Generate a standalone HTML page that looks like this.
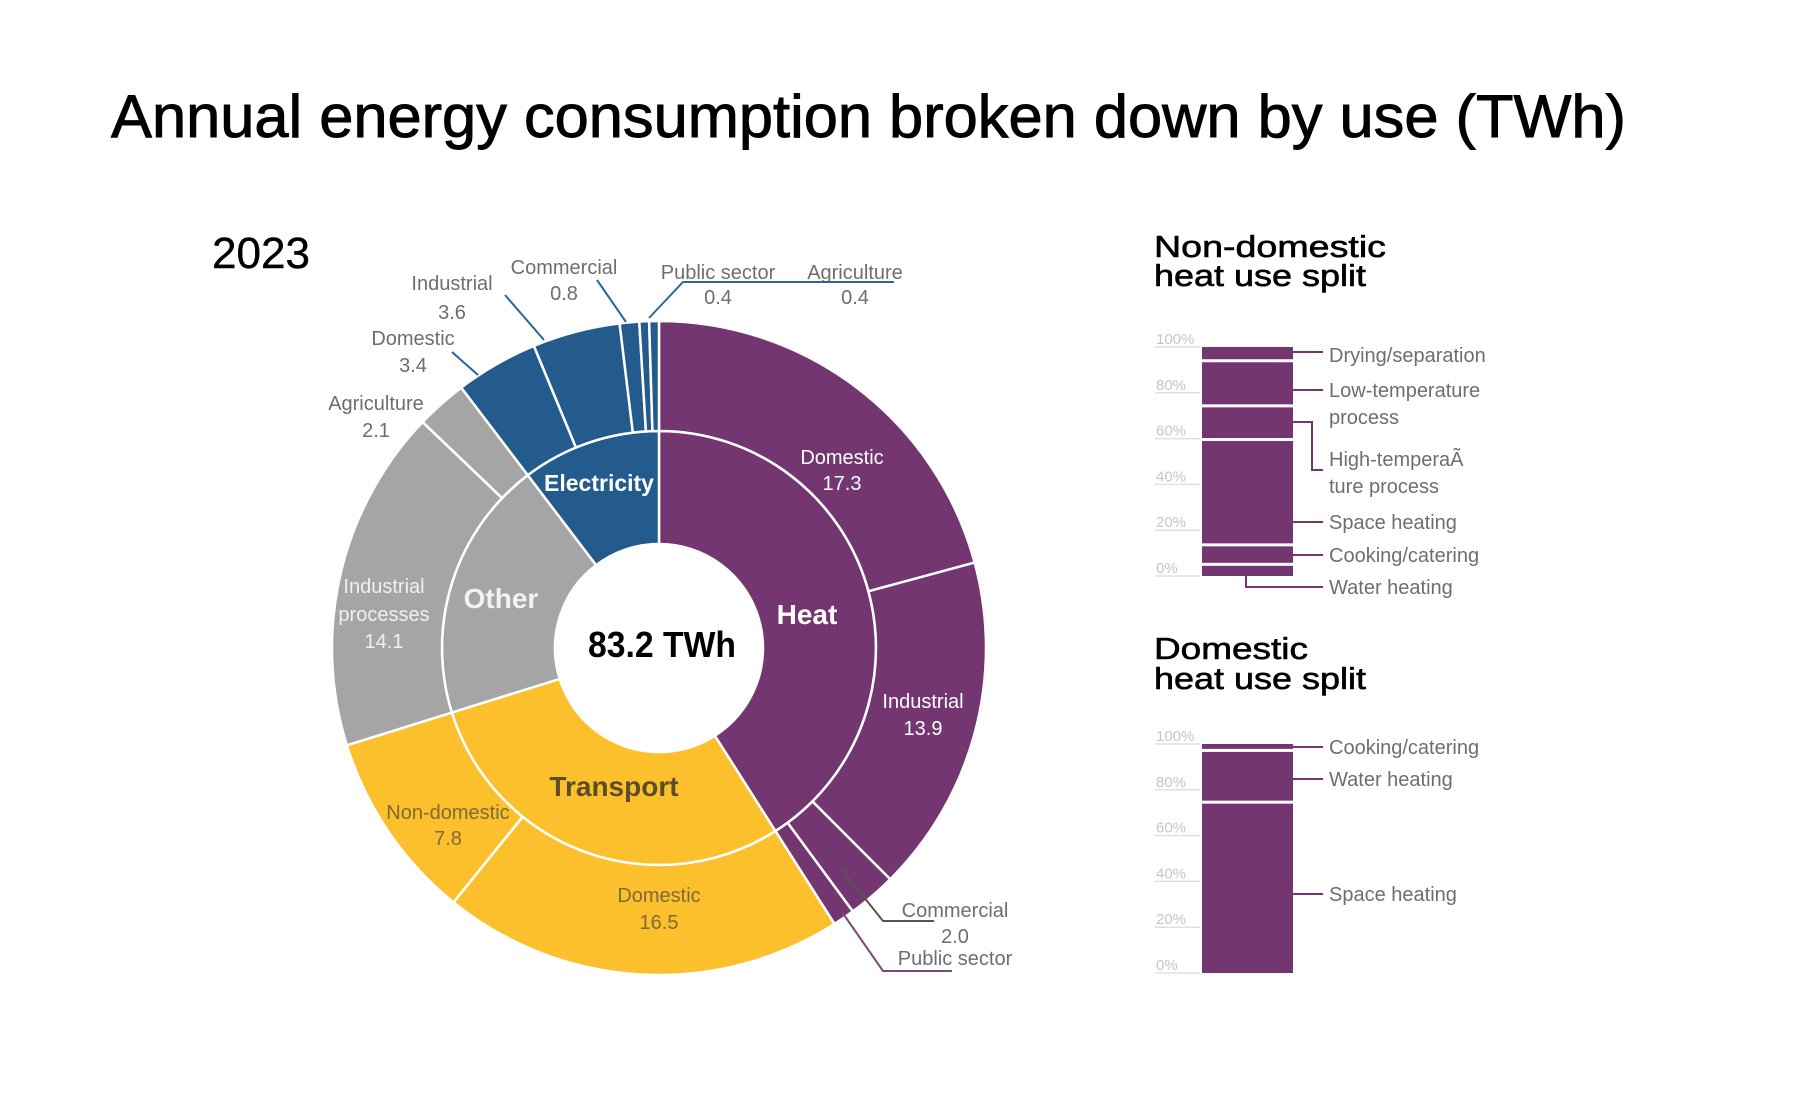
<!DOCTYPE html>
<html><head><meta charset="utf-8"><style>
html,body{margin:0;padding:0;background:#fff;}
svg{display:block;font-family:"Liberation Sans",sans-serif;}
</style></head><body>
<svg id="chart" width="1800" height="1100" viewBox="0 0 1800 1100">
<rect width="1800" height="1100" fill="#fff"/>
<text x="111" y="137" font-size="60" textLength="1515" lengthAdjust="spacingAndGlyphs" fill="#000" stroke="#000" stroke-width="0.9">Annual energy consumption broken down by use (TWh)</text>
<text x="212" y="268" font-size="44" textLength="98" lengthAdjust="spacingAndGlyphs" fill="#000" stroke="#000" stroke-width="0.4">2023</text>
<g id="donut"></g>
<g id="donutText">
<text x="662" y="657" font-size="36" font-weight="bold" text-anchor="middle" textLength="148" lengthAdjust="spacingAndGlyphs" fill="#000">83.2 TWh</text>
<text x="807" y="624" font-size="28" font-weight="bold" text-anchor="middle" fill="#fff">Heat</text>
<text x="599" y="491" font-size="23" font-weight="bold" text-anchor="middle" fill="#fff">Electricity</text>
<text x="501" y="608" font-size="28" font-weight="bold" text-anchor="middle" fill="#f2f2f2">Other</text>
<text x="614" y="796" font-size="28" font-weight="bold" text-anchor="middle" fill="#5b4d26">Transport</text>
<g font-size="20" text-anchor="middle" fill="#fff">
<text x="842" y="464">Domestic</text>
<text x="842" y="490">17.3</text>
<text x="923" y="708">Industrial</text>
<text x="923" y="735">13.9</text>
<text x="384" y="593" fill="#f0f0f0">Industrial</text>
<text x="384" y="621" fill="#f0f0f0">processes</text>
<text x="384" y="648" fill="#f0f0f0">14.1</text>
<text x="448" y="819" fill="#7d6b3a">Non-domestic</text>
<text x="448" y="845" fill="#7d6b3a">7.8</text>
<text x="659" y="902" fill="#7d6b3a">Domestic</text>
<text x="659" y="929" fill="#7d6b3a">16.5</text>
</g>
<g font-size="20" text-anchor="middle" fill="#6e6e6e">
<text x="376" y="410">Agriculture</text>
<text x="376" y="437">2.1</text>
<text x="413" y="345">Domestic</text>
<text x="413" y="372">3.4</text>
<text x="452" y="290">Industrial</text>
<text x="452" y="319">3.6</text>
<text x="564" y="274">Commercial</text>
<text x="564" y="300">0.8</text>
<text x="718" y="279">Public sector</text>
<text x="718" y="304">0.4</text>
<text x="855" y="279">Agriculture</text>
<text x="855" y="304">0.4</text>
<text x="955" y="917">Commercial</text>
<text x="955" y="943">2.0</text>
<text x="955" y="965">Public sector</text>
</g>
<g fill="none" stroke-width="2">
<polyline points="452,352 478,375" stroke="#2e6595"/>
<polyline points="505,295 544,340" stroke="#2e6595"/>
<polyline points="597,280 626,322" stroke="#2e6595"/>
<polyline points="649,318 683,282 894,282" stroke="#2e6595"/>
<polyline points="840,867 883,921 934,921" stroke="#555"/>
<polyline points="842,912 883,971 952,971" stroke="#7a4a78"/>
</g>
</g>

<g stroke="#000" stroke-width="0.6">
<text x="1154" y="257" font-size="31" textLength="232" lengthAdjust="spacingAndGlyphs" fill="#000">Non-domestic</text>
<text x="1154" y="286" font-size="31" textLength="212" lengthAdjust="spacingAndGlyphs" fill="#000">heat use split</text>
<text x="1154" y="659" font-size="31" textLength="154" lengthAdjust="spacingAndGlyphs" fill="#000">Domestic</text>
<text x="1154" y="689" font-size="31" textLength="212" lengthAdjust="spacingAndGlyphs" fill="#000">heat use split</text>
</g>
<g id="bars"></g>
<g font-size="20" fill="#6e6e6e">
<text x="1329" y="362">Drying/separation</text>
<text x="1329" y="397">Low-temperature</text>
<text x="1329" y="424">process</text>
<text x="1329" y="466">High-temperaÃ</text>
<text x="1329" y="493">ture process</text>
<text x="1329" y="529">Space heating</text>
<text x="1329" y="562">Cooking/catering</text>
<text x="1329" y="594">Water heating</text>
<text x="1329" y="754">Cooking/catering</text>
<text x="1329" y="786">Water heating</text>
<text x="1329" y="901">Space heating</text>
</g>
<g fill="none" stroke="#733670" stroke-width="2">
<polyline points="1293,352 1323,352"/>
<polyline points="1293,390 1323,390"/>
<polyline points="1293,422 1312,422 1312,470 1323,470"/>
<polyline points="1293,522 1323,522"/>
<polyline points="1293,555 1323,555"/>
<polyline points="1246,576 1246,587 1323,587"/>
<polyline points="1293,747 1323,747"/>
<polyline points="1293,779 1323,779"/>
<polyline points="1293,894 1323,894"/>
</g>
</svg>
<script>
const heatSub = [17.3, 13.9, 2.0, 0.9];
const transportSub = [16.5, 7.8];
const otherSub = [14.1, 2.1];
const elecSub = [3.4, 3.6, 0.8, 0.4, 0.4];
const groupNames = ['heat', 'transport', 'other', 'electricity'];
const ndShares = [5.1, 8.5, 46.0, 14.7, 19.7, 6.0];
const ndNames = ['water', 'cooking', 'space', 'high-temp', 'low-temp', 'drying'];
const dShares = [74.6, 22.6, 2.8];
const dNames = ['space', 'water', 'cooking'];
const tickLabels = ['0%', '20%', '40%', '60%', '80%', '100%'];

const NS = 'http://www.w3.org/2000/svg';
const colors = ['#733670', '#fcc02c', '#a5a5a5', '#235b8c'];
const groups = [heatSub, transportSub, otherSub, elecSub];
const cx = 659, cy = 648, r0 = 104, r1 = 217, r2 = 327;
const total = groups.reduce((s, g) => s + g.reduce((a, b) => a + b, 0), 0);
const ang = v => v / total * 2 * Math.PI;
const pt = (a, r) => [cx + r * Math.sin(a), cy - r * Math.cos(a)];
function arc(a0, a1, ri, ro) {
  const p1 = pt(a0, ro), p2 = pt(a1, ro), p3 = pt(a1, ri), p4 = pt(a0, ri);
  const lg = (a1 - a0) > Math.PI ? 1 : 0;
  return `M${p1[0]},${p1[1]}A${ro},${ro} 0 ${lg} 1 ${p2[0]},${p2[1]}L${p3[0]},${p3[1]}A${ri},${ri} 0 ${lg} 0 ${p4[0]},${p4[1]}Z`;
}
const donut = document.getElementById('donut');
let cum = 0;
groups.forEach((g, gi) => {
  const gt = g.reduce((a, b) => a + b, 0);
  const inner = document.createElementNS(NS, 'path');
  inner.setAttribute('d', arc(ang(cum), ang(cum + gt), r0, r1));
  inner.setAttribute('fill', colors[gi]);
  inner.setAttribute('stroke', '#fff');
  inner.setAttribute('stroke-width', '2.5');
  
  
  donut.appendChild(inner);
  let c2 = cum;
  g.forEach((v, vi) => {
    const p = document.createElementNS(NS, 'path');
    p.setAttribute('d', arc(ang(c2), ang(c2 + v), r1, r2));
    p.setAttribute('fill', colors[gi]);
    p.setAttribute('stroke', '#fff');
    p.setAttribute('stroke-width', '2.5');
    
    
    donut.appendChild(p);
    c2 += v;
  });
  cum += gt;
});

const bars = document.getElementById('bars');
const bx = 1202, bw = 91, span = 229;
function drawBar(shares, names, y0, prefix) {
  const ys = v => y0 - v / 100 * span;
  tickLabels.forEach((t, i) => {
    const y = ys(i * 20);
    const ln = document.createElementNS(NS, 'line');
    ln.setAttribute('x1', 1155); ln.setAttribute('x2', 1200);
    ln.setAttribute('y1', y); ln.setAttribute('y2', y);
    ln.setAttribute('stroke', '#e0e0e0'); ln.setAttribute('stroke-width', '1.5');
    
    
    bars.appendChild(ln);
    const tx = document.createElementNS(NS, 'text');
    tx.setAttribute('x', 1156); tx.setAttribute('y', y - 3);
    tx.setAttribute('font-size', '15'); tx.setAttribute('fill', '#c5c5c5');
    tx.textContent = t;
    
    
    bars.appendChild(tx);
  });
  let c = 0;
  shares.forEach((v, i) => {
    const yb = ys(c), yt = ys(c + v);
    const r = document.createElementNS(NS, 'rect');
    r.setAttribute('x', bx); r.setAttribute('width', bw);
    r.setAttribute('y', yt + (i === shares.length - 1 ? 0 : 1.5));
    r.setAttribute('height', Math.max(0.5, yb - yt - (i === shares.length - 1 ? 1.5 : 3) + (i === 0 ? 1.5 : 0)));
    r.setAttribute('fill', '#733670');
    
    
    bars.appendChild(r);
    c += v;
  });
}
drawBar(ndShares, ndNames, 576, 'nondomestic');
drawBar(dShares, dNames, 973, 'domestic');
</script>
</body></html>
